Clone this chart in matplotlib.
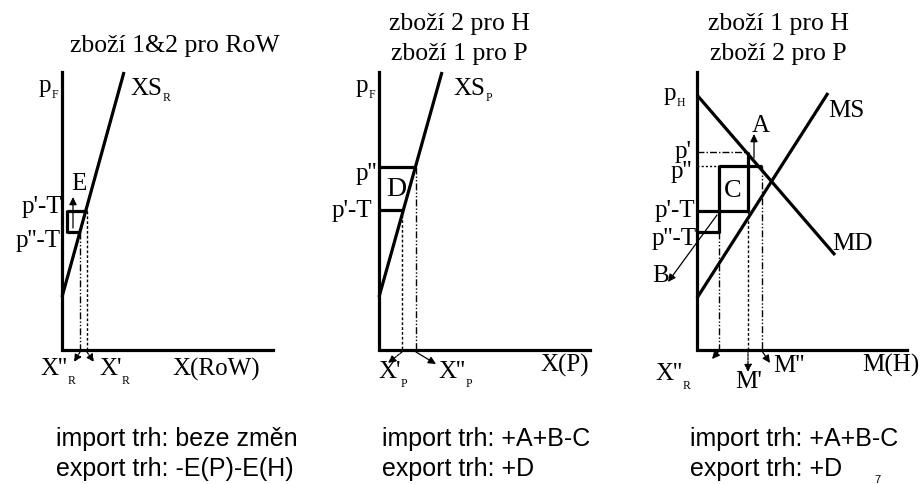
import matplotlib
matplotlib.use("Agg")
import matplotlib.pyplot as plt
from matplotlib.patches import FancyArrowPatch

W, H = 921, 484
SERIF = ["Liberation Serif", "DejaVu Serif"]
SANS = ["Liberation Sans", "DejaVu Sans"]
FS = 18      # serif label size (pt)
SUBFS = 8.5  # subscript size
TFS = 18.5   # title size
BFS = 18     # bottom text size

# ---------------- data (panel-local units: q to the right, p upward) ----------
# panel 1 : RoW export supply
p1_origin = (62, 134)
p1_axis_len = (211, 278)
p1_xs_q = [0, 62]
p1_xs_p = [53, 278]
p1_price = {"p'-T": 139, "p''-T": 118}
p1_qty = {"X''R": 18, "X'R": 25}
p1_box_left = 5

# panel 2 : P export supply
p2_origin = (379, 134)
p2_axis_len = (211, 278)
p2_xs_q = [0, 63]
p2_xs_p = [53, 278]
p2_price = {"p''": 183, "p'-T": 140}
p2_qty = {"X'P": 23, "X''P": 37}

# panel 3 : H import market
p3_origin = (697, 134)
p3_axis_len = (210, 278)
p3_md_q = [0, 138]
p3_md_p = [255, 95]
p3_ms_q = [0, 131]
p3_ms_p = [52, 257]
p3_price = {"p'": 198, "p''": 184, "p'-T": 139, "p''-T": 118}
p3_qty = {"X''R": 22, "M'": 51, "M''": 65}

titles = [["zboží 1&2 pro RoW"], ["zboží 2 pro H", "zboží 1 pro P"],
          ["zboží 1 pro H", "zboží 2 pro P"]]
bottom_lines = [["import trh: beze změn", "export trh: -E(P)-E(H)"],
                ["import trh: +A+B-C", "export trh: +D"],
                ["import trh: +A+B-C", "export trh: +D"]]
page_number = "7"

# ---------------- figure ----------------
fig = plt.figure(figsize=(W / 100, H / 100), dpi=100)
ax = fig.add_axes([0, 0, 1, 1])
ax.set_xlim(0, W)
ax.set_ylim(0, H)
ax.axis("off")
fig.canvas.draw()
renderer = fig.canvas.get_renderer()

THICK = 2.3
THIN = 1.0
DDOT = (0, (5, 1.5, 1, 1.5, 1, 1.5))
DOT = (0, (2, 1.5))


def P(px, py):
    return px, H - py


def line(o, qs, ps, lw=THICK, ls="-"):
    ax.plot([o[0] + q for q in qs], [o[1] + p for p in ps], color="black",
            lw=lw, ls=ls, solid_capstyle="butt", dash_capstyle="butt")


def arrow(o, q0, p0, q1, p1, ls="-", hw=2.2, hl=4.5):
    a = FancyArrowPatch((o[0] + q0, o[1] + p0), (o[0] + q1, o[1] + p1),
                        arrowstyle=f"-|>,head_length={hl},head_width={hw}",
                        color="black", lw=0.9, linestyle=ls,
                        shrinkA=0, shrinkB=0, mutation_scale=1)
    ax.add_patch(a)


def lab(px, py, main, sub=None, size=FS, drop=6, ha="left"):
    x, y = P(px, py)
    t = ax.text(x, y, main, fontsize=size, family=SERIF, va="baseline", ha=ha)
    if sub:
        bb = t.get_window_extent(renderer)
        ax.text(bb.x1 + 0.5, y - drop, sub, fontsize=SUBFS, family=SERIF,
                va="baseline", ha="left")


def axes_lines(o, L):
    ax.plot([o[0], o[0], o[0] + L[0]], [o[1] + L[1], o[1], o[1]],
            color="black", lw=THICK, solid_joinstyle="miter")


# ---------- panel 1 ----------
o = p1_origin
axes_lines(o, p1_axis_len)
line(o, p1_xs_q, p1_xs_p)
a, b = p1_price["p'-T"], p1_price["p''-T"]
qa, qb = p1_qty["X'R"], p1_qty["X''R"]
line(o, [p1_box_left, qa], [a, a], lw=THICK)
line(o, [p1_box_left, p1_box_left], [a + 1, b - 1], lw=THICK)
line(o, [p1_box_left, qb], [b, b], lw=THICK)
line(o, [qb, qb], [b, 0], lw=THIN, ls=DDOT)
line(o, [qa, qa], [a, 0], lw=THIN, ls=DOT)
arrow(o, 11, b + 4, 11, a + 14)
arrow(o, qb, -2, qb - 6, -12, ls=(0, (2, 1)))
arrow(o, qa, -2, qa + 7, -12, ls=(0, (2, 1)))

lab(39, 92, "p", "F")
lab(130, 95, "XS", "R")
lab(71, 190, "E")
lab(62, 213, "p'-T", ha="right")
lab(61, 247, "p''-T", ha="right")
lab(40, 375, "X''", "R", drop=9)
lab(99, 375, "X'", "R", drop=9)
lab(172, 376, "X(RoW)")

# ---------- panel 2 ----------
o = p2_origin
axes_lines(o, p2_axis_len)
line(o, p2_xs_q, p2_xs_p)
a, b = p2_price["p''"], p2_price["p'-T"]
qa, qb = p2_qty["X''P"], p2_qty["X'P"]
line(o, [0, qa], [a, a], lw=THICK)
line(o, [0, qb], [b, b], lw=THICK)
line(o, [qb, qb], [b, 0], lw=THIN, ls=DOT)
line(o, [qa, qa], [a, 0], lw=THIN, ls=DDOT)
arrow(o, qb, -2, qb - 14, -13, ls=(0, (2, 1)))
arrow(o, qa, -2, qa + 20, -14)

lab(356, 92, "p", "F")
lab(453, 95, "XS", "P")
lab(386, 196, "D", size=FS + 2)
lab(377, 180, "p''", ha="right")
lab(372, 217, "p'-T", ha="right")
lab(378, 378, "X'", "P", drop=9)
lab(438, 378, "X''", "P", drop=9)
lab(540, 372, "X(P)")

# ---------- panel 3 ----------
o = p3_origin
axes_lines(o, p3_axis_len)
line(o, p3_md_q, p3_md_p)
line(o, p3_ms_q, p3_ms_p)
p1_, p2_, p3_, p4_ = (p3_price["p'"], p3_price["p''"], p3_price["p'-T"],
                      p3_price["p''-T"])
qx, qm1, qm2 = p3_qty["X''R"], p3_qty["M'"], p3_qty["M''"]
line(o, [0, qm1], [p1_, p1_], lw=THIN, ls=(0, (5, 1.5, 1, 1.5)))
line(o, [0, qx], [p2_, p2_], lw=THIN, ls=(0, (1.5, 1.5)))
line(o, [qx, qm2], [p2_, p2_], lw=THICK)
line(o, [qx, qx], [p2_ + 1, p4_ - 1], lw=THICK)
line(o, [qm1, qm1], [p1_, p3_ - 1], lw=THICK)
line(o, [0, qm1], [p3_, p3_], lw=THICK)
line(o, [0, qx], [p4_, p4_], lw=THICK)
line(o, [qx, qx], [p4_, 0], lw=THIN, ls=DDOT)
line(o, [qm1, qm1], [p3_, 0], lw=THIN, ls=DOT)
line(o, [qm2, qm2], [p2_, 0], lw=THIN, ls=DDOT)
arrow(o, 57, p1_ - 6, 57, p1_ + 18)
arrow(o, 20, p3_ - 4, -29, p4_ - 50)
arrow(o, qx, -1, qx - 7, -9)
arrow(o, qm1, 0, qm1, -22, ls=(0, (2, 1)))
arrow(o, qm2, -1, qm2 + 8, -13)

lab(664, 100, "p", "H")
lab(828, 117, "MS")
lab(752, 132, "A")
lab(692, 158, "p'", ha="right")
lab(692, 178, "p''", ha="right")
lab(724, 197, "C", size=FS + 1)
lab(695, 217, "p'-T", ha="right")
lab(697, 245, "p''-T", ha="right")
lab(832, 250, "MD")
lab(652, 282, "B")
lab(655, 380, "X''", "R", drop=9)
lab(735, 388, "M'")
lab(773, 372, "M''")
lab(862, 372, "M(H)")

# ---------- titles ----------
title_cx = [175, 459, 778]
title_y = [[52], [30, 60], [30, 60]]
for cx, lines_, ys in zip(title_cx, titles, title_y):
    for txt, ty in zip(lines_, ys):
        x, y = P(cx, ty)
        ax.text(x, y, txt, fontsize=TFS, family=SERIF, ha="center", va="baseline")

# ---------- bottom texts ----------
col_x = [56, 382, 690]
for cx, lines_ in zip(col_x, bottom_lines):
    for txt, ty in zip(lines_, [446, 476]):
        x, y = P(cx, ty)
        ax.text(x, y, txt, fontsize=BFS, family=SANS, ha="left", va="baseline")

x, y = P(877, 483)
ax.text(x, y, page_number, fontsize=8, family=SANS, ha="center", va="baseline")

fig.savefig("out.png", dpi=100)
